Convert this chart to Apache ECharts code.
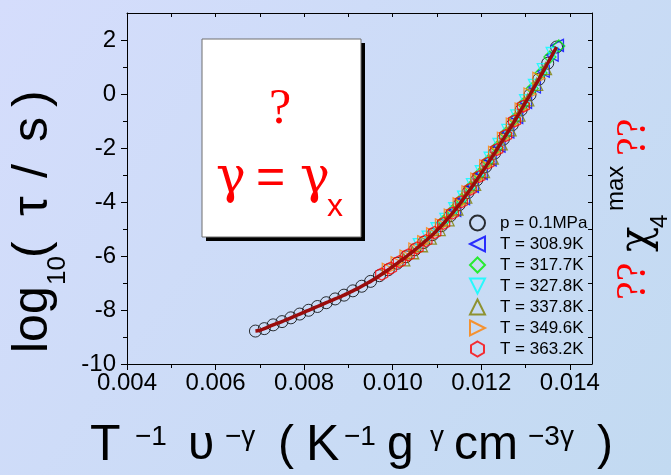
<!DOCTYPE html>
<html>
<head>
<meta charset="utf-8">
<script src="https://cdn.jsdelivr.net/npm/echarts@6/dist/echarts.min.js"></script>
<style>
html,body{margin:0;padding:0;background:#cbdbf6;}
#c{width:671px;height:475px;}
</style>
</head>
<body>
<div id="c"></div>
<script>
// ---- data ----
const seriesNames = ['p = 0.1MPa','T = 308.9K','T = 317.7K','T = 327.8K','T = 337.8K','T = 349.6K','T = 363.2K'];

const pX = [0.0069,0.0071,0.0073,0.0075,0.0077,0.0079,0.0081,0.0083,0.0085,0.0087,0.0089,0.0091,0.0093,0.0095,0.0097,0.0099,0.0101,0.0103,0.0105,0.0107,0.0109,0.0111,0.0113,0.0115,0.0117,0.0119,0.0121,0.0123,0.0125,0.0127,0.0129,0.0131,0.0133,0.0135,0.0137];
const pY = [-8.78,-8.69,-8.55,-8.43,-8.29,-8.15,-8.01,-7.87,-7.73,-7.59,-7.45,-7.29,-7.12,-6.94,-6.73,-6.51,-6.27,-6.03,-5.77,-5.50,-5.21,-4.88,-4.51,-4.10,-3.65,-3.18,-2.69,-2.19,-1.67,-1.14,-0.59,-0.03,0.55,1.14,1.74];

const t309X = [0.0114,0.0116,0.0118,0.0120,0.0122,0.0124,0.0126,0.0128,0.0130,0.0132,0.0134,0.0136,0.01372];
const t309Y = [-4.31,-3.88,-3.42,-2.94,-2.44,-1.93,-1.41,-0.87,-0.31,0.26,0.84,1.44,1.80];

const t318X = [0.01115,0.01135,0.01155,0.01175,0.01195,0.01215,0.01235,0.01255,0.01275,0.01295,0.01315,0.01335,0.01355,0.01375];
const t318Y = [-4.71,-4.33,-3.91,-3.46,-2.98,-2.49,-1.98,-1.46,-0.93,-0.37,0.20,0.78,1.37,1.78];

const t328X = [0.0106,0.0108,0.0110,0.0112,0.0114,0.0116,0.0118,0.0120,0.0122,0.0124,0.0126,0.0128,0.0130,0.0132,0.0134,0.0136];
const t328Y = [-5.58,-5.30,-4.99,-4.64,-4.25,-3.82,-3.36,-2.88,-2.38,-1.87,-1.35,-0.81,-0.25,0.32,0.90,1.50];

const t338X = [0.01025,0.01045,0.01065,0.01085,0.01105,0.01125,0.01145,0.01165,0.01185,0.01205,0.01225,0.01245,0.01265,0.01285,0.01305,0.01325,0.01345];
const t338Y = [-6.14,-5.88,-5.62,-5.34,-5.02,-4.66,-4.26,-3.82,-3.35,-2.87,-2.37,-1.85,-1.33,-0.78,-0.22,0.36,0.94];

const t350X = [0.0099,0.0101,0.0103,0.0105,0.0107,0.0109,0.0111,0.0113,0.0115,0.0117,0.0119,0.0121,0.0123,0.0125,0.0127,0.0129,0.0131,0.0133];
const t350Y = [-6.49,-6.25,-6.00,-5.74,-5.47,-5.18,-4.85,-4.48,-4.07,-3.62,-3.15,-2.66,-2.16,-1.64,-1.11,-0.56,0.00,0.58];

const t363X = [0.00975,0.00995,0.01015,0.01035,0.01055,0.01075,0.01095,0.01115,0.01135,0.01155,0.01175,0.01195,0.01215,0.01235,0.01255,0.01275,0.01295];
const t363Y = [-6.67,-6.45,-6.21,-5.96,-5.70,-5.43,-5.13,-4.79,-4.41,-3.99,-3.53,-3.06,-2.56,-2.06,-1.54,-1.00,-0.45];

const fitX = [0.0069,0.0070,0.0071,0.0072,0.0073,0.0074,0.0075,0.0076,0.0077,0.0078,0.0079,0.0080,0.0081,0.0082,0.0083,0.0084,0.0085,0.0086,0.0087,0.0088,0.0089,0.0090,0.0091,0.0092,0.0093,0.0094,0.0095,0.0096,0.0097,0.0098,0.0099,0.0100,0.0101,0.0102,0.0103,0.0104,0.0105,0.0106,0.0107,0.0108,0.0109,0.0110,0.0111,0.0112,0.0113,0.0114,0.0115,0.0116,0.0117,0.0118,0.0119,0.0120,0.0121,0.0122,0.0123,0.0124,0.0125,0.0126,0.0127,0.0128,0.0129,0.0130,0.0131,0.0132,0.0133,0.0134,0.0135,0.0136,0.0137];
const fitY = [-8.78,-8.75,-8.69,-8.62,-8.55,-8.49,-8.43,-8.36,-8.29,-8.22,-8.15,-8.08,-8.01,-7.94,-7.87,-7.80,-7.73,-7.66,-7.59,-7.52,-7.45,-7.37,-7.29,-7.21,-7.12,-7.03,-6.94,-6.84,-6.73,-6.62,-6.51,-6.39,-6.27,-6.15,-6.03,-5.90,-5.77,-5.64,-5.50,-5.36,-5.21,-5.05,-4.88,-4.70,-4.51,-4.31,-4.10,-3.88,-3.65,-3.42,-3.18,-2.94,-2.69,-2.44,-2.19,-1.93,-1.67,-1.41,-1.14,-0.87,-0.59,-0.31,-0.03,0.26,0.55,0.84,1.14,1.44,1.74];

const xMajorTicks = [0.004,0.006,0.008,0.010,0.012,0.014];
const xMinorTicks = [0.005,0.007,0.009,0.011,0.013];
const yMajorTicks = [-10,-8,-6,-4,-2,0,2];
const yMinorTicks = [-9,-7,-5,-3,-1,1];

// ---- chart ----
const zip = (xs, ys) => xs.map((x, i) => [x, ys[i]]);
const FONT = 'Liberation Sans, Arial, Helvetica, sans-serif';
const SERIF = 'Liberation Serif, Times New Roman, serif';
const GREEK = 'DejaVu Serif, Liberation Serif, serif';
const sym = {
  circle: 'circle',
  triLeft: 'path://M0,5 L10,0 L10,10 Z',
  diamond: 'path://M5,0 L10,5 L5,10 L0,5 Z',
  triDown: 'path://M0,0 L10,0 L5,10 Z',
  triUp: 'path://M5,0 L10,10 L0,10 Z',
  triRight: 'path://M0,0 L10,5 L0,10 Z',
  hexagon: 'path://M5,0 L9.33,2.5 L9.33,7.5 L5,10 L0.67,7.5 L0.67,2.5 Z'
};
const colors = ['#000000','#0000ff','#00ee00','#00ffff','#808000','#ff8000','#ff0000'];
const symbols = [sym.circle, sym.triLeft, sym.diamond, sym.triDown, sym.triUp, sym.triRight, sym.hexagon];
const datasets = [zip(pX,pY), zip(t309X,t309Y), zip(t318X,t318Y), zip(t328X,t328Y), zip(t338X,t338Y), zip(t350X,t350Y), zip(t363X,t363Y)];

const scatterSeries = seriesNames.map((n, i) => ({
  name: n,
  type: 'scatter',
  data: datasets[i],
  symbol: symbols[i],
  symbolSize: 12,
  itemStyle: {color: 'rgba(0,0,0,0)', borderColor: colors[i], borderWidth: i === 0 ? 1 : 1.3},
  z: 2 + i,
  silent: true
}));

const axLine = {show: true, onZero: false, lineStyle: {color: '#000', width: 1}};
const xLab = v => v.toFixed(3);

const chart = echarts.init(document.getElementById('c'), null, {renderer: 'canvas'});
const option = {
  animation: false,
  backgroundColor: {
    type: 'linear', x: 0, y: 0, x2: 1, y2: 1,
    colorStops: [{offset: 0, color: '#d5ddfc'}, {offset: 1, color: '#c2daf1'}]
  },
  grid: {left: 127, right: 79, top: 13, bottom: 111},
  xAxis: [
    {type: 'value', position: 'bottom', min: 0.004, max: 0.0145, interval: 0.002,
     axisLine: axLine, splitLine: {show: false},
     axisTick: {show: true, inside: false, length: 6, customValues: xMajorTicks, lineStyle: {color: '#000'}},
     axisLabel: {show: true, customValues: xMajorTicks, formatter: xLab, color: '#000', fontSize: 24, fontFamily: FONT, margin: 7}},
    {type: 'value', position: 'bottom', min: 0.004, max: 0.0145, interval: 0.002,
     axisLine: {show: false, onZero: false}, splitLine: {show: false},
     axisTick: {show: true, inside: false, length: 4, customValues: xMinorTicks, lineStyle: {color: '#000'}},
     axisLabel: {show: false}},
    {type: 'value', position: 'top', min: 0.004, max: 0.0145, interval: 0.002,
     axisLine: axLine, splitLine: {show: false},
     axisTick: {show: true, inside: true, length: 4, customValues: xMajorTicks.concat(xMinorTicks), lineStyle: {color: '#000'}},
     axisLabel: {show: false}}
  ],
  yAxis: [
    {type: 'value', position: 'left', min: -10, max: 3, interval: 2,
     axisLine: axLine, splitLine: {show: false},
     axisTick: {show: true, inside: false, length: 6, customValues: yMajorTicks, lineStyle: {color: '#000'}},
     axisLabel: {show: true, customValues: yMajorTicks, color: '#000', fontSize: 24, fontFamily: FONT, margin: 11}},
    {type: 'value', position: 'left', min: -10, max: 3, interval: 2,
     axisLine: {show: false, onZero: false}, splitLine: {show: false},
     axisTick: {show: true, inside: false, length: 4, customValues: yMinorTicks, lineStyle: {color: '#000'}},
     axisLabel: {show: false}},
    {type: 'value', position: 'right', min: -10, max: 3, interval: 2,
     axisLine: axLine, splitLine: {show: false},
     axisTick: {show: true, inside: true, length: 4, customValues: yMajorTicks.concat(yMinorTicks), lineStyle: {color: '#000'}},
     axisLabel: {show: false}}
  ],
  legend: {
    data: seriesNames,
    orient: 'vertical',
    left: 469, top: 214,
    padding: 0,
    itemGap: 3,
    itemWidth: 15, itemHeight: 15,
    textStyle: {fontSize: 17, lineHeight: 18, fontFamily: FONT, color: '#000', padding: [0, 0, 0, 10]},
    selectedMode: false
  },
  series: scatterSeries.concat([{
    name: 'fit', type: 'line', data: zip(fitX, fitY), smooth: true, showSymbol: false,
    lineStyle: {color: '#9a0c0c', width: 3.5}, z: 20, silent: true
  }]),
  graphic: [
    // inset box
    {type: 'rect', shape: {x: 206, y: 43, width: 159, height: 198}, style: {fill: '#000'}, z: 10},
    {type: 'rect', shape: {x: 202, y: 39, width: 159, height: 198}, style: {fill: '#fff', stroke: '#6e6e6e', lineWidth: 1}, z: 11},
    {type: 'text', x: 280, y: 110, z: 12, style: {text: '?', fill: '#ff0000', font: '50px ' + SERIF, align: 'center', verticalAlign: 'middle'}},
    {type: 'text', x: 216, y: 179, z: 12, style: {text: 'γ', fill: '#ff0000', font: '50px ' + GREEK, align: 'left', verticalAlign: 'middle'}},
    {type: 'text', x: 256, y: 179, z: 12, style: {text: '=', fill: '#ff0000', font: '50px ' + FONT, align: 'left', verticalAlign: 'middle'}},
    {type: 'text', x: 300, y: 179, z: 12, style: {text: 'γ', fill: '#ff0000', font: '50px ' + GREEK, align: 'left', verticalAlign: 'middle'}},
    {type: 'text', x: 327, y: 207, z: 12, style: {text: 'x', fill: '#ff0000', font: '32px ' + FONT, align: 'left', verticalAlign: 'middle'}},
    // y title
    {type: 'text', x: 33, y: 353, rotation: Math.PI / 2, style: {text: 'log', fill: '#000', font: '50px ' + FONT, align: 'left', verticalAlign: 'middle'}},
    {type: 'text', x: 58, y: 285, rotation: Math.PI / 2, style: {text: '10', fill: '#000', font: '26px ' + FONT, align: 'left', verticalAlign: 'middle'}},
    {type: 'text', x: 33, y: 258, rotation: Math.PI / 2, style: {text: '(', fill: '#000', font: '50px ' + FONT, align: 'left', verticalAlign: 'middle'}},
    {type: 'text', x: 33, y: 216, rotation: Math.PI / 2, style: {text: 'τ', fill: '#000', font: '50px ' + FONT, align: 'left', verticalAlign: 'middle'}},
    {type: 'text', x: 33, y: 178, rotation: Math.PI / 2, style: {text: '/', fill: '#000', font: '50px ' + FONT, align: 'left', verticalAlign: 'middle'}},
    {type: 'text', x: 33, y: 142, rotation: Math.PI / 2, style: {text: 's', fill: '#000', font: '50px ' + FONT, align: 'left', verticalAlign: 'middle'}},
    {type: 'text', x: 33, y: 107, rotation: Math.PI / 2, style: {text: ')', fill: '#000', font: '50px ' + FONT, align: 'left', verticalAlign: 'middle'}},
    // x title
    {type: 'text', x: 90, y: 446, style: {text: 'T', fill: '#000', font: '50px ' + FONT, verticalAlign: 'middle'}},
    {type: 'text', x: 135, y: 437, style: {text: '−1', fill: '#000', font: '28px ' + FONT, verticalAlign: 'middle'}},
    {type: 'text', x: 188, y: 446, style: {text: 'υ', fill: '#000', font: '48px ' + FONT, verticalAlign: 'middle'}},
    {type: 'text', x: 225, y: 437, style: {text: '−γ', fill: '#000', font: '28px ' + FONT, verticalAlign: 'middle'}},
    {type: 'text', x: 278, y: 446, style: {text: '(', fill: '#000', font: '48px ' + FONT, verticalAlign: 'middle'}},
    {type: 'text', x: 306, y: 446, style: {text: 'K', fill: '#000', font: '50px ' + FONT, verticalAlign: 'middle'}},
    {type: 'text', x: 344, y: 437, style: {text: '−1', fill: '#000', font: '28px ' + FONT, verticalAlign: 'middle'}},
    {type: 'text', x: 387, y: 446, style: {text: 'g', fill: '#000', font: '48px ' + FONT, verticalAlign: 'middle'}},
    {type: 'text', x: 430, y: 437, style: {text: 'γ', fill: '#000', font: '28px ' + FONT, verticalAlign: 'middle'}},
    {type: 'text', x: 454, y: 446, style: {text: 'cm', fill: '#000', font: '48px ' + FONT, verticalAlign: 'middle'}},
    {type: 'text', x: 528, y: 437, style: {text: '−3γ', fill: '#000', font: '28px ' + FONT, verticalAlign: 'middle'}},
    {type: 'text', x: 597, y: 446, style: {text: ')', fill: '#000', font: '48px ' + FONT, verticalAlign: 'middle'}},
    // right side label
    {type: 'text', x: 634, y: 300, rotation: Math.PI / 2, style: {text: '??', fill: '#ff0000', font: '42px ' + SERIF, align: 'left', verticalAlign: 'middle'}},
    {type: 'text', x: 638, y: 252, rotation: Math.PI / 2, style: {text: 'χ', fill: '#000', font: '42px ' + GREEK, align: 'left', verticalAlign: 'middle'}},
    {type: 'text', x: 660, y: 228, rotation: Math.PI / 2, style: {text: '4', fill: '#000', font: '24px ' + FONT, align: 'left', verticalAlign: 'middle'}},
    {type: 'text', x: 616, y: 211, rotation: Math.PI / 2, style: {text: 'max', fill: '#000', font: '24px ' + FONT, align: 'left', verticalAlign: 'middle'}},
    {type: 'text', x: 634, y: 156, rotation: Math.PI / 2, style: {text: '??', fill: '#ff0000', font: '42px ' + SERIF, align: 'left', verticalAlign: 'middle'}}
  ]
};
chart.setOption(option);
</script>
</body>
</html>
